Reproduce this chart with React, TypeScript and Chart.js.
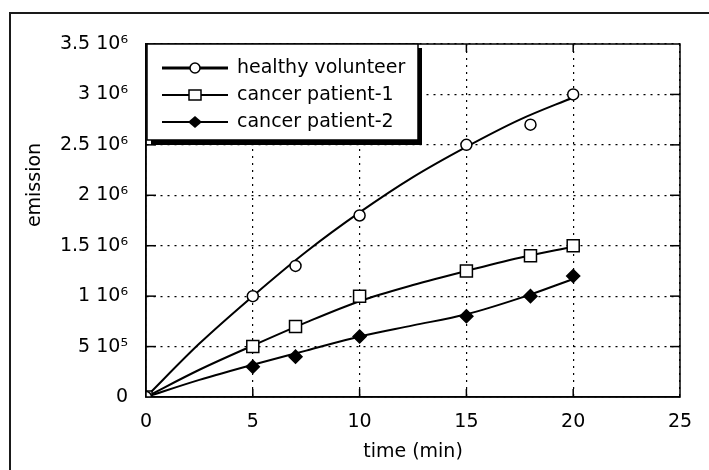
import React, { useEffect, useRef } from "react";
import { Chart, registerables } from "chart.js";

Chart.register(...registerables);

// ---- data ----
const times = [0, 5, 7, 10, 15, 18, 20];
const healthy = [0, 1.0e6, 1.3e6, 1.8e6, 2.5e6, 2.7e6, 3.0e6];
const patient1 = [0, 0.5e6, 0.7e6, 1.0e6, 1.25e6, 1.4e6, 1.5e6];
const patient2 = [0, 0.3e6, 0.4e6, 0.6e6, 0.8e6, 1.0e6, 1.2e6];

// fitted curves
const fitTimes = [0, 2.5, 5, 7.5, 10, 12.5, 15, 17.5, 20];
const healthyFit = [0, 0.53e6, 1.0e6, 1.44e6, 1.83e6, 2.18e6, 2.48e6, 2.75e6, 2.97e6];
const patient1Fit = [0, 0.27e6, 0.51e6, 0.74e6, 0.95e6, 1.11e6, 1.25e6, 1.38e6, 1.49e6];
const patient2Fit = [0, 0.17e6, 0.32e6, 0.46e6, 0.6e6, 0.71e6, 0.82e6, 0.98e6, 1.17e6];

const seriesLabels = ["healthy volunteer", "cancer patient-1", "cancer patient-2"];
const xTickValues = [0, 5, 10, 15, 20, 25];
const yTickValues = [0, 0.5e6, 1.0e6, 1.5e6, 2.0e6, 2.5e6, 3.0e6, 3.5e6];
const yTickLabels = ["0", "5 10\u2075", "1 10\u2076", "1.5 10\u2076", "2 10\u2076", "2.5 10\u2076", "3 10\u2076", "3.5 10\u2076"];
const xTitle = "time (min)";
const yTitle = "emission";

const FONT = "'DejaVu Sans', sans-serif";

const pts = (xs: number[], ys: number[]) => xs.map((x, i) => ({ x, y: ys[i] }));

function drawMarker(ctx: CanvasRenderingContext2D, kind: number, x: number, y: number) {
  ctx.save();
  ctx.lineWidth = 1.5;
  ctx.strokeStyle = "#000";
  if (kind === 0) {
    ctx.fillStyle = "#fff";
    ctx.beginPath();
    ctx.arc(x, y, 5, 0, Math.PI * 2);
    ctx.fill();
    ctx.stroke();
  } else if (kind === 1) {
    ctx.fillStyle = "#fff";
    ctx.fillRect(x - 6, y - 5, 12, 10);
    ctx.strokeRect(x - 6, y - 5, 12, 10);
  } else {
    ctx.fillStyle = "#000";
    ctx.beginPath();
    ctx.moveTo(x - 7, y);
    ctx.lineTo(x, y - 6);
    ctx.lineTo(x + 7, y);
    ctx.lineTo(x, y + 6);
    ctx.closePath();
    ctx.fill();
  }
  ctx.restore();
}

const decor = {
  id: "decor",
  afterDraw(chart: any) {
    const { ctx, chartArea: a, scales } = chart;
    const line = (x1: number, y1: number, x2: number, y2: number) => {
      ctx.beginPath();
      ctx.moveTo(x1, y1);
      ctx.lineTo(x2, y2);
      ctx.stroke();
    };
    ctx.save();
    // outer figure frame
    ctx.strokeStyle = "#1a1a1a";
    ctx.lineWidth = 2;
    ctx.beginPath();
    ctx.moveTo(10, 475);
    ctx.lineTo(10, 13);
    ctx.lineTo(715, 13);
    ctx.stroke();

    // plot frame
    ctx.strokeStyle = "#000";
    ctx.lineWidth = 1.5;
    ctx.strokeRect(a.left, a.top, a.right - a.left, a.bottom - a.top);

    // inward tick marks
    xTickValues.slice(1, -1).forEach((v) => {
      const px = scales.x.getPixelForValue(v);
      line(px, a.bottom, px, a.bottom - 8);
      line(px, a.top, px, a.top + 8);
    });
    yTickValues.slice(1, -1).forEach((v) => {
      const py = scales.y.getPixelForValue(v);
      line(a.left, py, a.left + 10, py);
      line(a.right, py, a.right - 10, py);
    });

    // axis titles
    ctx.fillStyle = "#000";
    ctx.font = `19px ${FONT}`;
    ctx.textAlign = "center";
    ctx.textBaseline = "middle";
    ctx.fillText(xTitle, (a.left + a.right) / 2, 452);
    ctx.save();
    ctx.translate(35, 185);
    ctx.rotate(-Math.PI / 2);
    ctx.fillText(yTitle, 0, 0);
    ctx.restore();

    // legend box with shadow
    const lx = a.left + 1;
    const ly = a.top;
    const lw = 271;
    const lh = 96;
    ctx.fillStyle = "#000";
    ctx.fillRect(lx + 4, ly + 4, lw, lh + 1);
    ctx.fillStyle = "#fff";
    ctx.fillRect(lx, ly, lw, lh);
    ctx.lineWidth = 1.5;
    ctx.strokeStyle = "#000";
    ctx.strokeRect(lx, ly, lw, lh);

    ctx.textAlign = "left";
    ctx.textBaseline = "middle";
    ctx.font = `19px ${FONT}`;
    seriesLabels.forEach((label, i) => {
      const ry = ly + 24 + i * 27;
      ctx.lineWidth = i === 0 ? 3 : 2;
      ctx.strokeStyle = "#000";
      line(lx + 15, ry, lx + 81, ry);
      drawMarker(ctx, i, lx + 48, ry);
      ctx.fillStyle = "#000";
      ctx.fillText(label, lx + 90, ry);
    });
    ctx.restore();
  },
};

export default function App() {
  const ref = useRef<HTMLCanvasElement | null>(null);

  useEffect(() => {
    if (!ref.current) return;
    const fitDs = (data: number[], w: number) => ({
      type: "line" as const,
      data: pts(fitTimes, data),
      borderColor: "#000",
      borderWidth: w,
      pointRadius: 0,
      fill: false,
      tension: 0.4,
      cubicInterpolationMode: "monotone" as const,
      order: 2,
    });
    const markDs = (label: string, data: number[], style: string, radius: number, bg: string) => ({
      type: "line" as const,
      label,
      data: pts(times, data),
      showLine: false,
      pointStyle: style,
      pointRadius: radius,
      pointBorderWidth: 1.5,
      pointBorderColor: "#000",
      pointBackgroundColor: bg,
      borderColor: "#000",
      backgroundColor: bg,
      order: 1,
    });

    const chart = new Chart(ref.current, {
      type: "line",
      data: {
        datasets: [
          fitDs(healthyFit, 2),
          fitDs(patient1Fit, 2),
          fitDs(patient2Fit, 2),
          markDs(seriesLabels[0], healthy, "circle", 5.5, "#fff"),
          markDs(seriesLabels[1], patient1, "rect", 8.5, "#fff"),
          markDs(seriesLabels[2], patient2, "rectRot", 6.5, "#000"),
        ] as any,
      },
      options: {
        responsive: false,
        animation: false,
        layout: { padding: { top: 44, right: 29, left: 0, bottom: 0 } },
        plugins: {
          legend: { display: false },
          tooltip: { enabled: false },
          title: { display: false },
        },
        scales: {
          x: {
            type: "linear",
            min: 0,
            max: 25,
            afterBuildTicks: (s: any) => {
              s.ticks = xTickValues.map((v) => ({ value: v }));
            },
            afterFit: (s: any) => {
              s.height = 73;
            },
            ticks: {
              color: "#000",
              font: { family: FONT, size: 19 },
              padding: 14,
              maxRotation: 0,
            },
            grid: { color: "#000", lineWidth: 1.2, drawTicks: false },
            border: { display: true, color: "#000", width: 1.5, dash: [2, 5] },
          },
          y: {
            type: "linear",
            min: 0,
            max: 3.5e6,
            afterBuildTicks: (s: any) => {
              s.ticks = yTickValues.map((v) => ({ value: v }));
            },
            afterFit: (s: any) => {
              s.width = 146;
            },
            ticks: {
              color: "#000",
              font: { family: FONT, size: 19 },
              padding: 18,
              callback: (_v: any, i: number) => yTickLabels[i],
            },
            grid: { color: "#000", lineWidth: 1.2, drawTicks: false },
            border: { display: true, color: "#000", width: 1.5, dash: [2, 5] },
          },
        },
      },
      plugins: [decor],
    });
    return () => chart.destroy();
  }, []);

  return (
    <div style={{ position: "absolute", left: 0, top: 0, width: 709, height: 470, background: "#fff" }}>
      <canvas ref={ref} width={709} height={470} style={{ display: "block" }} />
    </div>
  );
}
